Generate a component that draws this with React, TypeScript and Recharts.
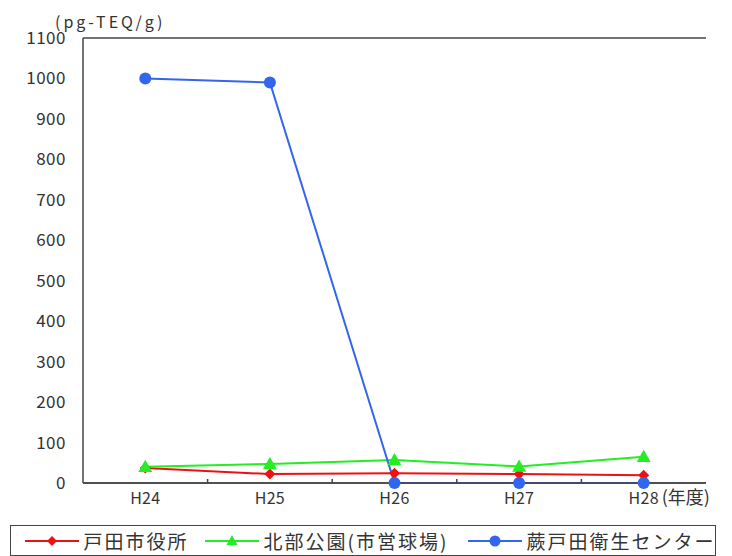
import React from "react";
import { LineChart, Line, XAxis, YAxis, CartesianGrid, Legend } from "recharts";

const years = ["H24", "H25", "H26", "H27", "H28"];
const todaShiyakusho = [37, 22, 24, 22, 19];
const hokubuKoen = [40, 47, 57, 41, 65];
const warabiEisei = [1000, 990, 0, 0, 0];
const yTicks = [0, 100, 200, 300, 400, 500, 600, 700, 800, 900, 1000, 1100];

const seriesNames = ["戸田市役所", "北部公園(市営球場)", "蕨戸田衛生センター"];
const colors = ["#ee1111", "#22ee22", "#3366ee"];

const data = years.map((y, i) => ({
  year: y,
  s0: todaShiyakusho[i],
  s1: hokubuKoen[i],
  s2: warabiEisei[i],
}));

const W = 732;
const H = 556;
const M = { top: 38, right: 26, left: 0, bottom: 0 };
const Y_W = 83;
const X_H = 42;
const FONT = "'Noto Sans CJK JP', 'Noto Sans', sans-serif";
const TEXT = "#333";
const AXIS = "#444";
const legendItemWidths = [180, 263, 250];

const Diamond = (p: any) => {
  const { cx, cy } = p;
  if (cx == null || cy == null) return null;
  const s = 5.5;
  return <polygon key={p.key ?? p.index} points={`${cx},${cy - s} ${cx + s},${cy} ${cx},${cy + s} ${cx - s},${cy}`} fill={colors[0]} />;
};
const Tri = (p: any) => {
  const { cx, cy } = p;
  if (cx == null || cy == null) return null;
  const s = 7;
  return <polygon key={p.key ?? p.index} points={`${cx},${cy - s} ${cx + s},${cy + s * 0.75} ${cx - s},${cy + s * 0.75}`} fill={colors[1]} />;
};
const Circ = (p: any) => {
  const { cx, cy } = p;
  if (cx == null || cy == null) return null;
  return <circle key={p.key ?? p.index} cx={cx} cy={cy} r={6} fill={colors[2]} />;
};

const bandW = (W - Y_W - M.right - M.left) / years.length;

const XTick = (p: any) => {
  const { x, y, payload, index } = p;
  const last = index === years.length - 1;
  return (
    <g>
      {!last && (
        <line x1={x + bandW / 2} x2={x + bandW / 2} y1={y} y2={y - 4} stroke={AXIS} strokeWidth={1.5} />
      )}
      <text x={x} y={y + 21} textAnchor="middle" fontSize={16} letterSpacing={0.3} fill={TEXT} fontFamily={FONT}>
        {payload.value}
      </text>
      {last && (
        <text x={x + 18} y={y + 21} textAnchor="start" fontSize={18} fill={TEXT} fontFamily={FONT}>
          (年度)
        </text>
      )}
    </g>
  );
};

const LegendIcon = ({ i }: { i: number }) => (
  <svg width={54} height={14} style={{ display: "block", flex: "none" }}>
    <line x1={0} x2={54} y1={7} y2={7} stroke={colors[i]} strokeWidth={2} />
    {i === 0 && <polygon points="27,2 32,7 27,12 22,7" fill={colors[0]} />}
    {i === 1 && <polygon points="27,1 32.5,11 21.5,11" fill={colors[1]} />}
    {i === 2 && <circle cx={27} cy={7} r={5.5} fill={colors[2]} />}
  </svg>
);

const LegendContent = () => (
  <div
    style={{
      position: "relative",
      marginLeft: 10,
      width: 706,
      height: 31,
      border: `1.5px solid ${AXIS}`,
      boxSizing: "border-box",
      background: "#fff",
      display: "flex",
      alignItems: "center",
      paddingLeft: 13.5,
      fontFamily: FONT,
      fontSize: 19,
      color: TEXT,
    }}
  >
    {seriesNames.map((n, i) => (
      <div key={n} style={{ display: "flex", alignItems: "center", width: legendItemWidths[i], flex: "none" }}>
        <LegendIcon i={i} />
        <span style={{ marginLeft: 5, whiteSpace: "nowrap", letterSpacing: 2 }}>{n}</span>
      </div>
    ))}
  </div>
);

export default function App() {
  return (
    <div style={{ position: "absolute", left: 0, top: 0, width: W, height: H, background: "#fff" }}>
      <LineChart width={W} height={H} data={data} margin={M}>
        <CartesianGrid vertical={false} stroke={AXIS} strokeWidth={1.5} />
        <XAxis
          dataKey="year"
          scale="band"
          height={X_H}
          axisLine={{ stroke: AXIS, strokeWidth: 1.5 }}
          tickLine={false}
          tickSize={0}
          tickMargin={0}
          tick={<XTick />}
          interval={0}
        />
        <YAxis
          yAxisId="l"
          width={Y_W}
          domain={[0, 1100]}
          ticks={yTicks}
          interval={0}
          axisLine={{ stroke: AXIS, strokeWidth: 1.5 }}
          tickLine={false}
          tickSize={6}
          tickMargin={11}
          tick={{ fontSize: 17, fill: TEXT, fontFamily: FONT, letterSpacing: 0.5 }}
          label={{ value: "(pg-TEQ/g)", position: "insideTopLeft", offset: 0, dx: 55, dy: -21, fontSize: 16, fill: TEXT, fontFamily: FONT, letterSpacing: 3 }}
        />
        <YAxis yAxisId="r" orientation="right" width={0} domain={[0, 1100]} tick={false} tickLine={false} axisLine={{ stroke: AXIS, strokeWidth: 1.5 }} />
        <Legend verticalAlign="bottom" align="left" height={31} content={<LegendContent />} wrapperStyle={{ left: 0, width: W }} />
        <Line yAxisId="l" dataKey="s0" name={seriesNames[0]} stroke={colors[0]} strokeWidth={2} dot={Diamond} isAnimationActive={false} />
        <Line yAxisId="l" dataKey="s1" name={seriesNames[1]} stroke={colors[1]} strokeWidth={2} dot={Tri} isAnimationActive={false} />
        <Line yAxisId="l" dataKey="s2" name={seriesNames[2]} stroke={colors[2]} strokeWidth={2} dot={Circ} isAnimationActive={false} />
      </LineChart>
    </div>
  );
}
